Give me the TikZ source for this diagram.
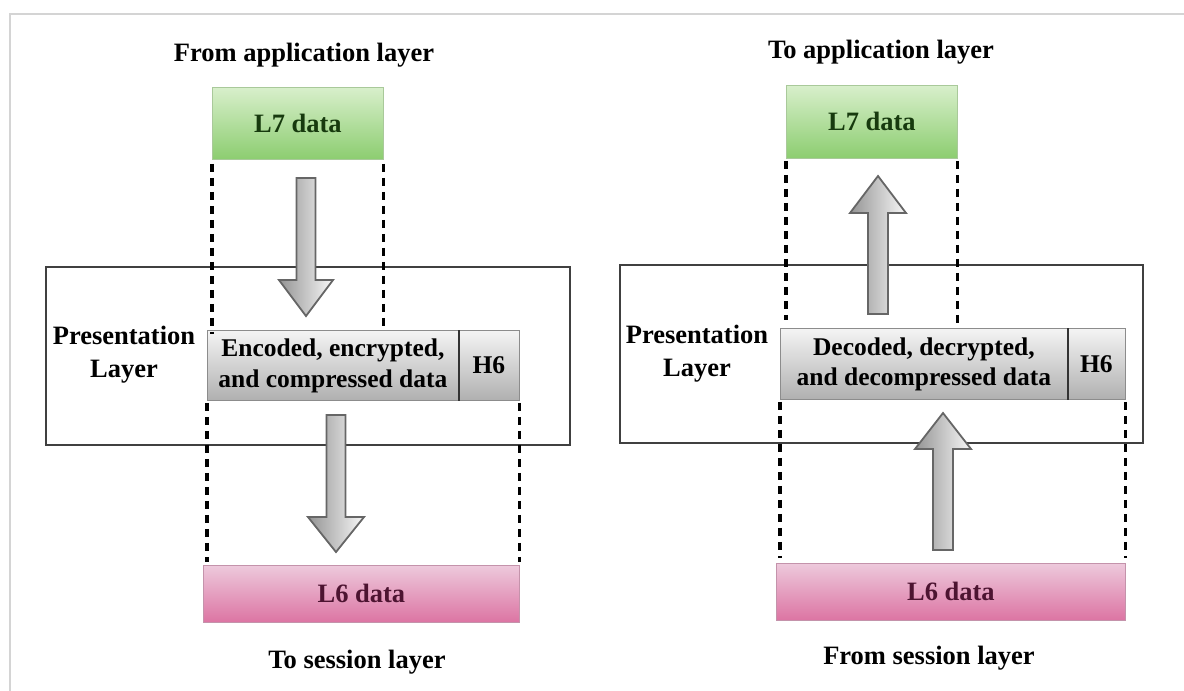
\documentclass[tikz,border=0pt]{standalone}
\usepackage{fontspec}
\setmainfont{Liberation Serif}
\usetikzlibrary{calc}
\definecolor{frameline}{HTML}{D4D4D4}
\definecolor{greentop}{HTML}{D8EFCB}
\definecolor{greenbot}{HTML}{8CCD70}
\definecolor{greenedge}{HTML}{A9C99A}
\definecolor{greentext}{HTML}{173A0E}
\definecolor{pinktop}{HTML}{EDC9DC}
\definecolor{pinkbot}{HTML}{DC74A3}
\definecolor{pinkedge}{HTML}{C493AB}
\definecolor{pinktext}{HTML}{4D1431}
\definecolor{graytop}{HTML}{F4F4F4}
\definecolor{graybot}{HTML}{B0B0B0}
\definecolor{grayedge}{HTML}{8C8C8C}
\definecolor{arrowedge}{HTML}{666666}
% tail, tip, head length, half shaft width, half head width
\newcommand\fatarrow[5]{%
  \draw[blockarrow] ($(#1)+(-#4,0)$) -- ++(2*#4,0)
    -- ($(#2)!#3pt!(#1)+(#4,0)$) -- ++(#5-#4,0) -- (#2)
    -- ($(#2)!#3pt!(#1)+(-#5,0)$) -- ++(#5-#4,0) -- cycle;}
\begin{document}
\begin{tikzpicture}[x=1pt,y=-1pt,
  lbl/.style={font=\fontsize{26.5}{33}\selectfont\bfseries, align=center, inner sep=0pt},
  datbox/.style={lbl, draw, line width=0.8pt, anchor=north west},
  greenbox/.style={datbox, draw=greenedge, top color=greentop, bottom color=greenbot, text=greentext},
  pinkbox/.style={datbox, draw=pinkedge, top color=pinktop, bottom color=pinkbot, text=pinktext},
  graybox/.style={datbox, draw=grayedge, top color=graytop, bottom color=graybot, text=black,
    font=\fontsize{25.5}{32}\selectfont\bfseries},
  layerbox/.style={draw=black!75, line width=1.5pt, anchor=north west, inner sep=0pt},
  guide/.style={line width=3.2pt, dash pattern=on 8pt off 6pt},
  divider/.style={line width=2.6pt, black!80},
  blockarrow/.style={draw=arrowedge, line width=1.8pt, line join=miter,
    left color=black!42, right color=black!3}
]
\useasboundingbox (0,0) rectangle (1184,691);
\fill[white] (0,0) rectangle (1184,691);
\draw[frameline, line width=2pt] (1184,14) -- (9.5,14) -- (9.5,691);

% ---------- sending side ----------
\node[layerbox, minimum width=524, minimum height=178] (presL) at (45,266) {};
\node[lbl] (fromApp) at (304,55) {From application layer};
\node[greenbox, minimum width=171, minimum height=72] (l7L) at (212,87) {L7 data};
\node[graybox, minimum width=251, minimum height=70] (encL) at (207,330)
  {Encoded, encrypted,\\[-1pt]and compressed data};
\node[graybox, minimum width=61, minimum height=70] (h6L) at (458,330) {H6};
\draw[divider] (encL.north east) -- (encL.south east);
\node[lbl] (presTxtL) at (124,355) {Presentation\\Layer};
\node[pinkbox, minimum width=316, minimum height=57] (l6L) at (203,565) {L6 data};
\node[lbl] (toSess) at (357,662) {To session layer};

\draw[guide] ([yshift=-4pt]l7L.south west) -- ([yshift=-4pt]l7L.south west |- encL.north);
\draw[guide] ([yshift=-4pt]l7L.south east) -- (l7L.south east |- encL.north);
\draw[guide] ([yshift=-2pt]encL.south west) -- ([yshift=3pt]encL.south west |- l6L.north);
\draw[guide] ([yshift=-2pt]h6L.south east) -- ([yshift=3pt]h6L.south east |- l6L.north);

\coordinate (a1tail) at (306,178);
\coordinate (a1tip) at (306,316);
\coordinate (a2tail) at (336,415);
\coordinate (a2tip) at (336,552);
\fatarrow{a1tail}{a1tip}{36}{9.5}{27}
\fatarrow{a2tail}{a2tip}{35}{9.5}{28}

% ---------- receiving side ----------
\node[layerbox, minimum width=523, minimum height=178] (presR) at (619,264) {};
\node[lbl] (toApp) at (881,52) {To application layer};
\node[greenbox, minimum width=171, minimum height=73] (l7R) at (786,85) {L7 data};
\node[graybox, minimum width=287, minimum height=71] (decR) at (780,328)
  {Decoded, decrypted,\\[-2pt]and decompressed data};
\node[graybox, minimum width=58, minimum height=71] (h6R) at (1067,328) {H6};
\draw[divider] (decR.north east) -- (decR.south east);
\node[lbl] (presTxtR) at (697,354) {Presentation\\Layer};
\node[pinkbox, minimum width=349, minimum height=57] (l6R) at (776,563) {L6 data};
\node[lbl] (fromSess) at (929,658) {From session layer};

\draw[guide] ([yshift=-2pt]l7R.south west) -- ([yshift=8pt]l7R.south west |- decR.north);
\draw[guide] ([yshift=-2pt]l7R.south east) -- ([yshift=3pt]l7R.south east |- decR.north);
\draw[guide] ([yshift=-2pt]decR.south west) -- ([yshift=5pt]decR.south west |- l6R.north);
\draw[guide] ([yshift=-2pt]h6R.south east) -- ([yshift=5pt]h6R.south east |- l6R.north);

\coordinate (a3tail) at (878,314);
\coordinate (a3tip) at (878,176);
\coordinate (a4tail) at (943,550);
\coordinate (a4tip) at (943,413);
\fatarrow{a3tail}{a3tip}{37}{10}{28}
\fatarrow{a4tail}{a4tip}{36}{10}{28}
\end{tikzpicture}
\end{document}
